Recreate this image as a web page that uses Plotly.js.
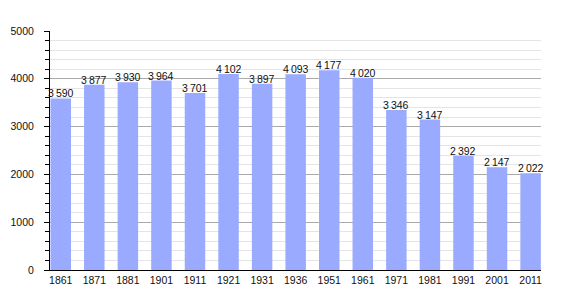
<!DOCTYPE html>
<html><head><meta charset="utf-8">
<script src="https://cdn.plot.ly/plotly-3.0.1.min.js"></script>
<style>html,body{margin:0;padding:0;background:#fff}#c{width:570px;height:300px}</style>
</head><body><div id="c"></div>
<script>
const years = ['1861','1871','1881','1901','1911','1921','1931','1936','1951','1961','1971','1981','1991','2001','2011'];
const population = [3590,3877,3930,3964,3701,4102,3897,4093,4177,4020,3346,3147,2392,2147,2022];
const yTicks = [0,1000,2000,3000,4000,5000];

function fmt(v){ const s=String(v); return s.length>3 ? s.slice(0,s.length-3)+'\u2009'+s.slice(-3) : s; }
const idx = years.map((_,i)=>i);

const trace = {
  type:'bar', x:idx, y:population, width:0.61,
  marker:{color:'#99aaff', line:{width:0}},
  hoverinfo:'skip'
};
const annotations = idx.map(i=>({
  x:i, y:population[i], xref:'x', yref:'y', text:fmt(population[i]),
  showarrow:false, yanchor:'bottom', yshift:-3,
  font:{family:'Liberation Sans, Arial, sans-serif', size:10.5, color:'#111'}
}));
const layout = {
  width:570, height:300,
  margin:{l:50,r:29,t:31,b:30},
  paper_bgcolor:'#fff', plot_bgcolor:'#fff',
  showlegend:false,
  font:{family:'Liberation Sans, Arial, sans-serif', size:10.5, color:'#111'},
  xaxis:{type:'linear', range:[-0.32,14.31], tickvals:idx, ticktext:years, showline:true, linecolor:'#000', linewidth:1, ticks:'', showgrid:false, zeroline:false, tickfont:{size:10.5}, fixedrange:true},
  yaxis:{range:[0,5000], tickvals:yTicks, ticktext:yTicks.map(String), showline:true, linecolor:'#000', linewidth:1,
    ticks:'outside', ticklen:5, tickcolor:'#000', gridcolor:'#aaaaaa', gridwidth:1, zeroline:false,
    minor:{dtick:200, showgrid:true, gridcolor:'#e4e4e4', ticks:'outside', ticklen:4, tickcolor:'#000'},
    tickfont:{size:10.5}, ticklabelstandoff:8, fixedrange:true},
  annotations:annotations
};
Plotly.newPlot('c',[trace],layout,{displayModeBar:false,staticPlot:true});
</script></body></html>
